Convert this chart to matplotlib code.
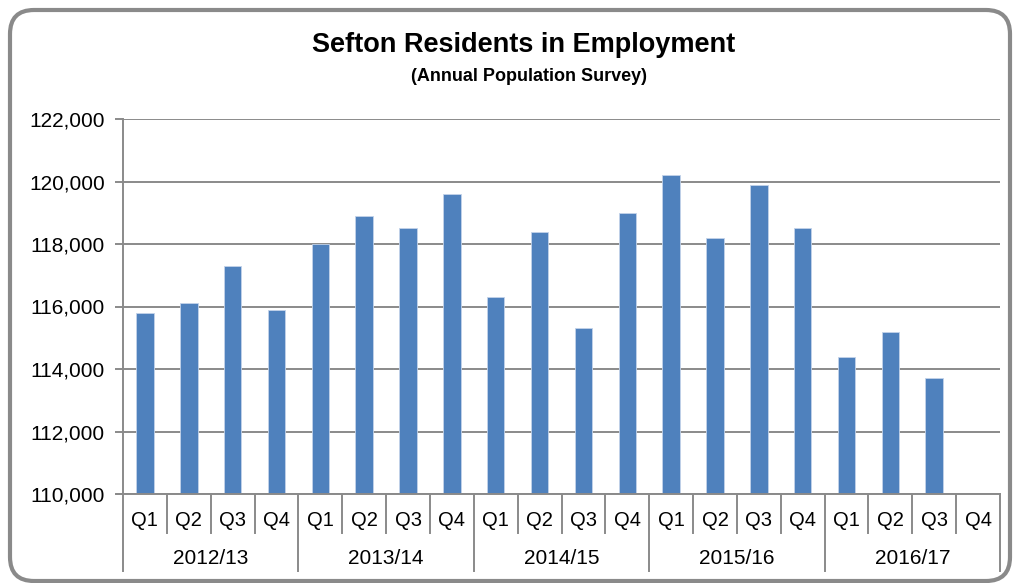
import numpy as np
import matplotlib
matplotlib.use("Agg")
import matplotlib.pyplot as plt
from matplotlib.patches import FancyBboxPatch
from matplotlib.ticker import FuncFormatter, MultipleLocator

plt.rcParams['font.family'] = ['Liberation Sans', 'DejaVu Sans']

years = ["2012/13", "2013/14", "2014/15", "2015/16", "2016/17"]
quarters = ["Q1", "Q2", "Q3", "Q4"]
values = [115800, 116100, 117300, 115900,
          118000, 118900, 118500, 119600,
          116300, 118400, 115300, 119000,
          120200, 118200, 119900, 118500,
          114400, 115200, 113700, np.nan]

title = "Sefton Residents in Employment"
subtitle = "(Annual Population Survey)"

W, H = 1016, 583
fig = plt.figure(figsize=(W / 100, H / 100), dpi=100)

# outer rounded frame (display pixels)
frame = FancyBboxPatch((10, 2), 1000, 571,
                       boxstyle="round,pad=0,rounding_size=24",
                       transform=None, facecolor="none",
                       edgecolor="#8a8a8a", linewidth=3.0, zorder=0)
fig.patches.append(frame)

ax = fig.add_axes([123 / W, 1 - 494 / H, (1000 - 123) / W, (494 - 119) / H])
ax.set_facecolor("none")
ax.set_zorder(2)

n = len(values)
x = np.arange(n)
ax.bar(x, values, width=0.40, color="#4F81BD", edgecolor="#c3d3ea",
       linewidth=0.6, zorder=3)

ax.set_ylim(110000, 122000)
ax.set_xlim(-0.5, n - 0.5)
ax.yaxis.set_major_locator(MultipleLocator(2000))
ax.yaxis.set_major_formatter(FuncFormatter(lambda v, p: f"{int(v):,}"))
grid_c = "#8a8a8a"
ax.grid(axis="y", color=grid_c, linewidth=1.4, zorder=1)
ax.set_axisbelow(True)
for s in ["top", "right", "bottom"]:
    ax.spines[s].set_visible(False)
ax.spines["left"].set_color(grid_c)
ax.spines["left"].set_linewidth(1.4)
ax.tick_params(axis="y", length=6, width=1.4, color=grid_c, labelsize=15,
               pad=7, labelcolor="black")
ax.set_xticks([])

tr = ax.get_xaxis_transform()
# bottom axis line incl. left tick extension
ax.plot([-0.5 - 6 / 43.85, n - 0.5], [0, 0], transform=tr, color=grid_c,
        linewidth=1.4, clip_on=False, zorder=4)

q_y = -26 / 375
yr_y = -64 / 375
short = -39 / 375
long_ = -77 / 375
for i in range(n):
    ax.text(x[i], q_y, quarters[i % 4], transform=tr, ha="center",
            va="center", fontsize=14.5)
for b in range(n + 1):
    xb = b - 0.5
    y1 = long_ if b % 4 == 0 else short
    ax.plot([xb, xb], [0, y1], transform=tr, color=grid_c, linewidth=1.4,
            clip_on=False, zorder=4)
for j, yr in enumerate(years):
    ax.text(j * 4 + 1.5, yr_y, yr, transform=tr, ha="center", va="center",
            fontsize=15)

fig.text(523.5 / W, 1 - 45 / H, title, ha="center", va="center",
         fontsize=19.5, fontweight="bold")
fig.text(529 / W, 1 - 76 / H, subtitle, ha="center", va="center",
         fontsize=13, fontweight="bold")

fig.savefig("out.png", dpi=100)
